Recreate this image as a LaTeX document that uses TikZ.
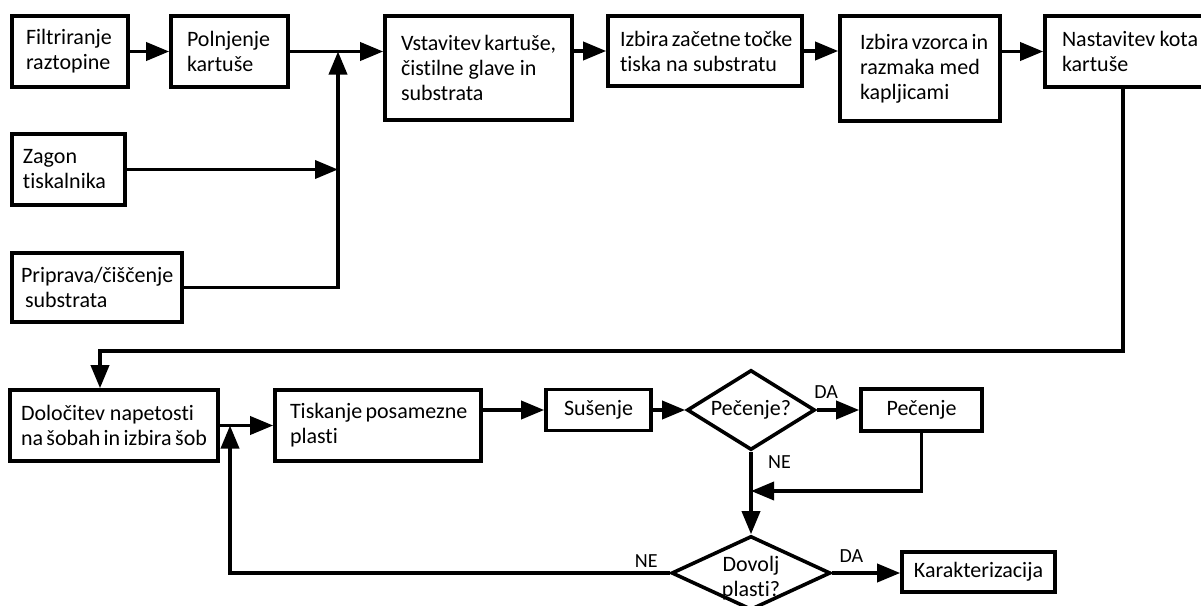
\documentclass[tikz,border=0pt]{standalone}
\usepackage{fontspec}
\setmainfont{Carlito}[Ligatures=NoCommon]
\usetikzlibrary{arrows.meta,shapes.geometric,positioning}
\hyphenpenalty=10000
\exhyphenpenalty=10000

\begin{document}
\begin{tikzpicture}[x=1pt, y=-1pt,
    every node/.style={font=\fontsize{22}{25}\selectfont},
    box/.style={draw, line width=3.6pt, align=flush left, inner ysep=0pt},
    sbox/.style={draw, line width=3.6pt, align=center, inner sep=0pt},
    decision/.style={draw, diamond, line width=3.6pt, align=center, inner sep=0pt},
    arr/.style={-{Triangle[length=23pt, width=18pt]}, line width=3.6pt},
    lbl/.style={font=\fontsize{20}{24}\selectfont}]
    \useasboundingbox (0,0) rectangle (1201,605);
    \clip (0,0) rectangle (1201,605);

    \node[box, text width=88pt, inner xsep=14pt, minimum height=71pt] (filt) at (70,51.5) {Filtriranje\\raztopine};
    \node[box, text width=85pt, inner xsep=16pt, minimum height=71pt] (poln) at (229.5,51.5) {Polnjenje\\kartuše};
    \node[box, text width=155pt, inner xsep=16pt, minimum height=104pt] (vstav) at (478.5,68) {Vstavitev~kartuše,\\čistilne~glave~in\\substrata};
    \node[box, text width=170pt, inner xsep=12pt, minimum height=70pt] (zacet) at (705,51) {Izbira~začetne~točke\\tiska~na~substratu};
    \node[box, text width=120pt, inner xsep=20pt, minimum height=105pt] (vzorec) at (920,68.5) {Izbira~vzorca~in\\razmaka~med\\kapljicami};
    \node[box, text width=136pt, inner xsep=17pt, minimum height=71pt] (kota) at (1130,51.5) {Nastavitev~kota\\kartuše};
    \node[box, text width=91pt, inner xsep=11pt, minimum height=71pt] (zagon) at (68.5,169.5) {Zagon\\tiskalnika};
    \node[box, text width=152pt, inner xsep=9pt, minimum height=69pt] (priprava) at (97,287.5) {Priprava/čiščenje\\\hspace*{4pt}substrata};

    \node[box, text width=186pt, inner xsep=11pt, minimum height=71pt] (dolocitev) at (114,425.5) {Določitev~napetosti\\na~šobah~in~izbira~šob};
    \node[box, text width=176pt, inner xsep=15pt, minimum height=71pt] (tiskanje) at (378,425.5) {Tiskanje~posamezne\\plasti};
    \node[sbox, minimum width=105pt, minimum height=41pt] (susenje) at (598.5,410) {Sušenje};
    \node[decision, aspect=1.6, minimum width=128pt, minimum height=80pt] (pecq) at (751,410) {Pečenje?};
    \node[sbox, minimum width=121pt, minimum height=42pt] (pecenje) at (921.5,410) {Pečenje};
    \node[decision, aspect=2, minimum width=159pt, minimum height=74pt, inner ysep=-5pt] (dovolj) at (751,573) {\rule{0pt}{26pt}Dovolj\\plasti?};
    \node[sbox, minimum width=153pt, minimum height=40pt] (karakt) at (978.5,572) {Karakterizacija};

    \coordinate (jn) at (338,51.5);
    \coordinate (jl) at (230,425.5);
    \coordinate (merge) at (751,491);
    \coordinate (bendr) at (1123,351);
    \coordinate (bendl) at (100,351);

    \draw[arr] (filt) -- (poln);
    \draw[arr] (poln) -- (poln -| vstav.west);
    \draw[arr] (zagon) -- (zagon -| jn);
    \draw[arr] (priprava) -| (jn);
    \draw[arr] (vstav.east |- zacet) -- (zacet);
    \draw[arr] (zacet) -- (zacet -| vzorec.west);
    \draw[arr] (vzorec.east |- kota) -- (kota);
    \draw[arr] (kota.south -| bendr) -- (bendr) -- (bendl) -- (bendl |- dolocitev.north);

    \draw[arr] (dolocitev) -- (tiskanje);
    \draw[arr] (tiskanje.east |- susenje) -- (susenje);
    \draw[arr] (susenje) -- (pecq);
    \draw[arr] (pecq) -- node[lbl, above=6pt, pos=0.22] {DA} (pecenje);
    \draw[arr] (pecq) -- node[lbl, right=12pt, pos=0.13] {NE} (dovolj);
    \draw[arr] (pecenje) |- (merge);
    \draw[arr] (dovolj) -- node[lbl, above=5pt, pos=0.28] {DA} (dovolj -| karakt.west);
    \draw[arr] (dovolj.west) node[lbl, above left, xshift=-7pt] {NE} -| (jl);
\end{tikzpicture}
\end{document}
